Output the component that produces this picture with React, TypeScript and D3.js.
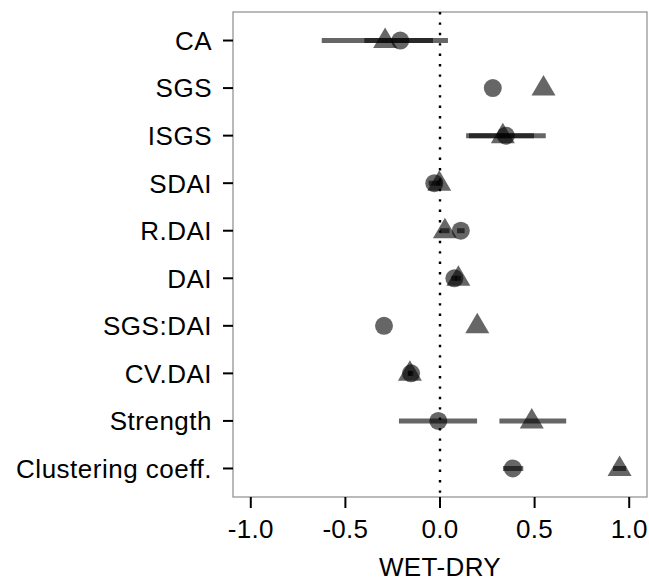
import React from "react";
import * as d3 from "d3";

const categories = ["CA", "SGS", "ISGS", "SDAI", "R.DAI", "DAI", "SGS:DAI", "CV.DAI", "Strength", "Clustering coeff."];
// circle group
const circleValues = [-0.21, 0.279, 0.348, -0.03, 0.11, 0.076, -0.296, -0.153, -0.009, 0.385];
const circleLow: (number | null)[] = [-0.40, null, 0.138, -0.06, 0.09, 0.06, null, -0.17, -0.217, 0.333];
const circleHigh: (number | null)[] = [-0.037, null, 0.559, 0.0, 0.13, 0.09, null, -0.14, 0.196, 0.44];
// triangle group
const triangleValues = [-0.29, 0.547, 0.332, -0.004, 0.026, 0.097, 0.197, -0.159, 0.485, 0.949];
const triangleLow: (number | null)[] = [-0.625, null, 0.153, -0.02, 0.0, 0.08, null, -0.17, 0.314, 0.915];
const triangleHigh: (number | null)[] = [0.042, null, 0.497, 0.01, 0.05, 0.11, null, -0.15, 0.667, 0.984];
const xTicks = [-1.0, -0.5, 0.0, 0.5, 1.0];
const xTitle = "WET-DRY";

export default function App() {
  const W = 649, H = 580;
  const left = 233, right = 647, top = 12, bottom = 497;
  const x = d3.scaleLinear().domain([-1.094, 1.094]).range([left, right]);
  const y = d3.scalePoint<string>().domain(categories).range([top, bottom]).padding(0.6);
  const font = "'Liberation Sans', Arial, sans-serif";
  const tri = (cx: number, cy: number) => {
    const p = d3.path();
    p.moveTo(cx, cy - 13);
    p.lineTo(cx + 12, cy + 7.5);
    p.lineTo(cx - 12, cy + 7.5);
    p.closePath();
    return p.toString();
  };
  return (
    <svg width={W} height={H} style={{ position: "absolute", left: 0, top: 0 }} fontFamily={font}>
      <rect x={0} y={0} width={W} height={H} fill="#fff" />
      <rect x={left} y={top} width={right - left} height={bottom - top} fill="#fff" stroke="#8c8c8c" strokeWidth={1.2} />
      <line x1={x(0)} x2={x(0)} y1={top} y2={bottom} stroke="#000" strokeWidth={2.4} strokeDasharray="2.4,8" />
      {categories.map((c, i) => (
        <g key={c}>
          {circleLow[i] !== null && (
            <line x1={x(circleLow[i] as number)} x2={x(circleHigh[i] as number)} y1={y(c)} y2={y(c)} stroke="#000" strokeOpacity={0.6} strokeWidth={5} />
          )}
          {triangleLow[i] !== null && (
            <line x1={x(triangleLow[i] as number)} x2={x(triangleHigh[i] as number)} y1={y(c)} y2={y(c)} stroke="#000" strokeOpacity={0.6} strokeWidth={5} />
          )}
          <circle cx={x(circleValues[i])} cy={y(c)} r={9} fill="#000" fillOpacity={0.6} />
          <path d={tri(x(triangleValues[i]), y(c)!)} fill="#000" fillOpacity={0.6} />
        </g>
      ))}
      {categories.map((c) => (
        <g key={"yl" + c}>
          <line x1={left - 10} x2={left} y1={y(c)} y2={y(c)} stroke="#000" strokeWidth={2} />
          <text x={left - 21} y={y(c)} dy="0.36em" textAnchor="end" fontSize={26} letterSpacing={0.5} fill="#000">{c}</text>
        </g>
      ))}
      {xTicks.map((t) => (
        <g key={"xt" + t}>
          <line x1={x(t)} x2={x(t)} y1={bottom} y2={bottom + 11} stroke="#000" strokeWidth={2} />
          <text x={x(t)} y={538} textAnchor="middle" fontSize={26} letterSpacing={0.3} fill="#000">{t.toFixed(1)}</text>
        </g>
      ))}
      <text x={(left + right) / 2} y={576} textAnchor="middle" fontSize={26} letterSpacing={0.4} fill="#000">{xTitle}</text>
    </svg>
  );
}
